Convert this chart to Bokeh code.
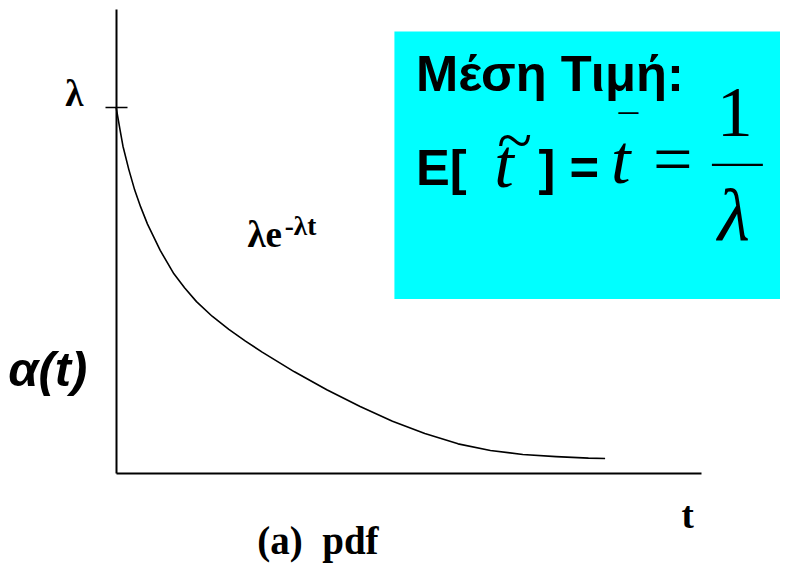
from bokeh.plotting import figure
from bokeh.models import Range1d, LinearAxis, FixedTicker, Label, BoxAnnotation
from bokeh.embed import file_html
from bokeh.resources import INLINE

# ---- data (t, pdf value with lambda = 1) ----
t_values = [0.0, 0.048, 0.084, 0.156, 0.228, 0.301, 0.385, 0.541, 0.709, 0.842,
            0.986, 1.178, 1.383, 1.587, 1.792, 2.188, 2.585, 2.994, 3.391, 3.788,
            4.196, 4.593, 4.990, 5.399, 5.796, 6.0]
pdf_values = [1.0, 0.939, 0.894, 0.830, 0.774, 0.728, 0.681, 0.609, 0.545, 0.506,
              0.469, 0.429, 0.393, 0.361, 0.331, 0.277, 0.228, 0.182, 0.142, 0.108,
              0.080, 0.062, 0.051, 0.045, 0.041, 0.040]
lam = 1.0
y_tick_label = "λ"
x_axis_label = "t"
y_axis_label = "α(t)"
curve_label = ("λe", "-λt")
caption = "(a)\u00a0\u00a0pdf"
box_title = "Μέση Τιμή:"

# ---- layout: reference pixel anchors -> data scale ----
W, H = 780, 564
REF_W, REF_H = 796, 580
FS = 0.975                      # font scale (canvas / reference)
OX, OY = 118, 486               # reference pixel of origin
SX = (617 - OX) / t_values[-1]
SY = (OY - 110) / lam


def tx(px):
    return (px - OX) / SX


def ay(py):
    return (OY - py) / SY


p = figure(width=W, height=H, output_backend="svg", toolbar_location=None,
           x_range=Range1d(tx(0), tx(REF_W)), y_range=Range1d(ay(REF_H), ay(0)),
           x_axis_location=None, y_axis_location=None, min_border=0,
           outline_line_color=None, title=None, background_fill_color="white")
p.grid.visible = False

# axes drawn through the origin
yaxis = LinearAxis(fixed_location=0, ticker=FixedTicker(ticks=[lam]),
                   bounds=(0, ay(9)), axis_line_width=2, axis_line_color="black",
                   major_tick_in=11, major_tick_out=11, major_tick_line_width=1.5,
                   minor_tick_line_color=None, major_label_text_color=None)
xaxis = LinearAxis(fixed_location=0, ticker=FixedTicker(ticks=[]),
                   bounds=(0, tx(715)), axis_line_width=2, axis_line_color="black",
                   major_tick_line_color=None, minor_tick_line_color=None,
                   major_label_text_color=None)
p.add_layout(yaxis, "left")
p.add_layout(xaxis, "below")

p.line(t_values, pdf_values, line_color="black", line_width=1.6, line_join="round")

# cyan box with the mean value formula
p.add_layout(BoxAnnotation(left=tx(402), right=tx(REF_W), top=ay(32), bottom=ay(307),
                           fill_color="#00FFFF", fill_alpha=1.0, line_color=None))
p.add_layout(BoxAnnotation(left=tx(726), right=tx(778), top=ay(167.8), bottom=ay(170.2),
                           fill_color="black", fill_alpha=1.0, line_color=None))

SERIF = "Liberation Serif"
SANS = "Liberation Sans"
SHIFT = 0.36   # Bokeh draws labels this much (in em) below the given y


def lab(text, px, py, font, size, style="normal"):
    p.add_layout(Label(x=tx(px), y=ay(py - SHIFT * size), text=text, text_font=font,
                       text_font_size=f"{size * FS:.1f}px", text_font_style=style,
                       text_color="black", text_align="left",
                       text_baseline="alphabetic"))


lab(y_tick_label, 66, 109, SERIF, 38, "bold")
lab(curve_label[0], 252, 254, SERIF, 38, "bold")
lab(curve_label[1], 290, 242, SERIF, 28, "bold")
lab(y_axis_label, 8, 397, SANS, 50, "bold italic")
lab(x_axis_label, 695, 543, SERIF, 38, "bold")
lab(caption, 262, 570, SERIF, 40, "bold")

lab(box_title, 424, 94, SANS, 52, "bold")
lab("E[", 424, 190, SANS, 52, "bold")
lab("] =", 549, 190, SANS, 52, "bold")
lab("t", 504, 193, SERIF, 72, "italic")
lab("~", 507, 168, SERIF, 66)
lab("t", 623, 189, SERIF, 72, "italic")
lab("¯", 631, 147, SERIF, 40)
lab("=", 666, 189, SERIF, 72)
lab("1", 731, 142, SERIF, 74)
lab("λ", 732, 248, SERIF, 76, "italic")

open("out.html", "w").write(file_html(p, INLINE))
